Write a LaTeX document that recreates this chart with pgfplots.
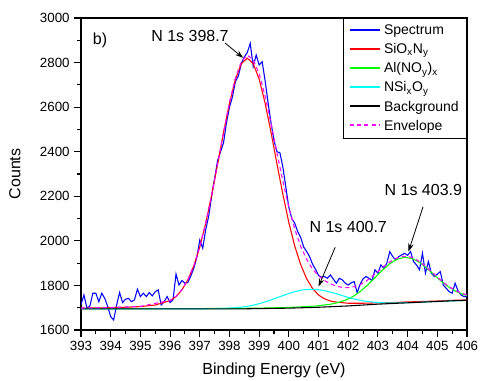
\documentclass[border=0pt]{standalone}
\usepackage{fontspec}
\setmainfont{Liberation Sans}
\usepackage{pgfplots}
\pgfplotsset{compat=1.18}
\usetikzlibrary{arrows.meta}
\definecolor{cBlue}{RGB}{0,0,255}
\definecolor{cRed}{RGB}{255,0,0}
\definecolor{cGreen}{RGB}{0,255,0}
\definecolor{cCyan}{RGB}{0,255,255}
\definecolor{cMag}{RGB}{255,0,255}
\begin{document}
\begin{tikzpicture}
\useasboundingbox (-60.75pt,-38.25pt) rectangle (299.25pt,247.5pt);
\begin{axis}[
 at={(0,0)}, anchor=south west,
 scale only axis, width=289.5pt, height=234pt,
 xmin=393, xmax=406, ymin=1600, ymax=3000,
 xtick={393,394,...,406}, minor x tick num=1,
 ytick={1600,1800,...,3000}, minor y tick num=1,
 tick align=outside, xtick pos=bottom, ytick pos=left,
 major tick length=5pt, minor tick length=3pt,
 tick style={black, line width=0.8pt},
 axis line style={line width=0.9pt},
 /pgf/number format/assume math mode=true,
 /pgf/number format/1000 sep={},
 ticklabel style={font=\fontsize{10}{12}\selectfont},
 label style={font=\fontsize{12}{14}\selectfont},
 xlabel={Binding Energy (eV)}, ylabel={Counts},
 xlabel style={at={(axis description cs:0.5,-0.128)}, anchor=center},
 ylabel style={at={(axis description cs:-0.171,0.5)}, anchor=center},
 legend style={at={(1,1)}, anchor=north east,
   font=\fontsize{10.5}{12}\selectfont, row sep=1.2pt, inner xsep=4pt, inner ysep=3pt},
 legend cell align=left,
 legend image code/.code={\draw[#1, line width=1.5pt] (0pt,0.4pt) -- (23pt,0.4pt);},
]
\addplot[color=cBlue, line width=0.8pt] coordinates {
(393.0,1715) (393.1,1757) (393.2,1698) (393.3,1708) (393.4,1765) (393.5,1765)
(393.6,1727) (393.7,1765) (393.8,1742) (393.9,1705) (394.0,1660) (394.1,1645)
(394.2,1712) (394.3,1768) (394.4,1723) (394.5,1738) (394.6,1742) (394.7,1727)
(394.8,1735) (394.9,1783) (395.0,1750) (395.1,1765) (395.2,1750) (395.3,1768)
(395.4,1753) (395.5,1772) (395.6,1780) (395.7,1712) (395.8,1727) (395.9,1750)
(396.0,1723) (396.1,1735) (396.2,1851) (396.3,1802) (396.4,1822) (396.5,1810)
(396.6,1813) (396.7,1843) (396.8,1877) (396.9,1925) (397.0,2004) (397.1,1967)
(397.2,2050) (397.3,2110) (397.4,2200) (397.5,2280) (397.6,2360) (397.7,2400)
(397.8,2440) (397.9,2530) (398.0,2600) (398.1,2645) (398.2,2715) (398.3,2740)
(398.4,2795) (398.5,2825) (398.6,2845) (398.7,2886) (398.8,2782) (398.9,2834)
(399.0,2789) (399.1,2804) (399.2,2720) (399.3,2620) (399.4,2530) (399.5,2450)
(399.6,2400) (399.7,2395) (399.8,2330) (399.9,2240) (400.0,2150) (400.1,2100)
(400.2,2079) (400.3,2041) (400.4,2015) (400.5,1972) (400.6,1952) (400.7,1929)
(400.8,1895) (400.9,1872) (401.0,1845) (401.1,1837) (401.2,1840) (401.3,1832)
(401.4,1847) (401.5,1828) (401.6,1810) (401.7,1832) (401.8,1825) (401.9,1810)
(402.0,1802) (402.1,1812) (402.2,1817) (402.3,1768) (402.4,1805) (402.5,1830)
(402.6,1840) (402.7,1832) (402.8,1822) (402.9,1870) (403.0,1855) (403.1,1892)
(403.2,1877) (403.3,1900) (403.4,1952) (403.5,1929) (403.6,1914) (403.7,1929)
(403.8,1937) (403.9,1944) (404.0,1935) (404.1,1952) (404.2,1907) (404.3,1892)
(404.4,1870) (404.5,1944) (404.6,1855) (404.7,1907) (404.8,1855) (404.9,1840)
(405.0,1850) (405.1,1862) (405.2,1802) (405.3,1787) (405.4,1772) (405.5,1765)
(405.6,1810) (405.7,1775) (405.8,1757) (405.9,1750) (406.0,1750)
};
\addlegendentry{Spectrum}
\addplot[color=cRed, line width=0.8pt] coordinates {
(393,1698) (393.5,1699) (394,1700) (394.5,1702) (395,1705) (395.5,1712)
(396,1732) (396.2,1750) (396.4,1780) (396.6,1825) (396.8,1888) (397.0,1972)
(397.2,2079) (397.4,2205) (397.6,2343) (397.8,2485) (398.0,2617) (398.2,2725)
(398.4,2795) (398.6,2820) (398.8,2795) (399.0,2726) (399.2,2618) (399.4,2487)
(399.6,2345) (399.8,2208) (400.0,2082) (400.2,1976) (400.4,1893) (400.6,1830)
(400.8,1786) (401.0,1757) (401.2,1740) (401.4,1730) (401.6,1725) (402.0,1720)
(402.5,1720) (403,1722) (403.5,1723) (404,1726) (404.5,1728) (405,1730)
(405.5,1733) (406,1735)
};
\addlegendentry{SiO\textsubscript{x}N\textsubscript{y}}
\addplot[color=cGreen, line width=0.8pt] coordinates {
(393,1695.5) (396,1696) (398,1696.5) (399,1698) (399.9,1700.8) (400.4,1703.6)
(400.9,1707.6) (401.4,1715.4) (401.65,1722.9) (401.9,1733.4) (402.15,1749.2)
(402.4,1772.2) (402.65,1801.2) (402.9,1834.2) (403.15,1868) (403.4,1897.4)
(403.65,1917.9) (403.9,1926.4) (404.15,1920.9) (404.4,1903.4) (404.65,1876.9)
(404.9,1846.4) (405.15,1816.9) (405.4,1791.4) (405.65,1771.6) (405.9,1758.6)
(406,1755)
};
\addlegendentry{Al(NO\textsubscript{y})\textsubscript{x}}
\addplot[color=cCyan, line width=0.8pt] coordinates {
(393,1695) (397.2,1695.3) (397.7,1696.4) (398.2,1699.8) (398.45,1703.3)
(398.7,1708.4) (398.95,1716.3) (399.2,1725.9) (399.45,1737.3) (399.7,1749.5)
(399.95,1761.4) (400.2,1772) (400.45,1779.5) (400.7,1782.8) (400.95,1781.5)
(401.2,1776.4) (401.45,1768.2) (401.7,1758.3) (401.95,1748.1) (402.2,1739.1)
(402.45,1732) (402.7,1727) (402.95,1723.9) (403.2,1722) (403.45,1721.4)
(403.7,1721.6) (404.2,1723.5) (405,1728) (406,1733)
};
\addlegendentry{NSi\textsubscript{x}O\textsubscript{y}}
\addplot[color=black, line width=0.8pt] coordinates {
(393,1695) (398.5,1695) (399,1696) (399.5,1697) (400,1698) (400.5,1700)
(401,1702) (401.5,1705) (402,1708) (402.5,1712) (403,1716) (403.5,1719)
(404,1722) (404.5,1725) (405,1728) (405.5,1731) (406,1733)
};
\addlegendentry{Background}
\addplot[color=cMag, line width=0.8pt, dash pattern=on 3pt off 2.5pt] coordinates {
(393,1698.5) (394,1700.6) (395,1705.8) (396,1733) (396.2,1751) (396.4,1781)
(396.6,1826) (396.8,1889) (397.0,1973) (397.2,2080) (397.4,2207) (397.6,2345)
(397.8,2488) (398.0,2621) (398.2,2731) (398.4,2804) (398.6,2833) (398.8,2813)
(399.0,2750) (399.2,2650) (399.4,2527) (399.6,2395) (399.8,2267) (400.0,2151)
(400.2,2053) (400.4,1975) (400.6,1917) (400.8,1873) (401.0,1843) (401.2,1822)
(401.4,1807) (401.6,1797) (401.8,1791) (402.0,1790) (402.2,1794) (402.4,1803)
(402.6,1819) (402.8,1840) (403.0,1862) (403.2,1885) (403.4,1905) (403.6,1921)
(403.8,1930) (404.0,1931) (404.2,1922) (404.4,1907) (404.6,1886) (404.8,1862)
(405.0,1838) (405.2,1814) (405.4,1794) (405.6,1778) (405.8,1766) (406.0,1757)
};
\addlegendentry{Envelope}
\node[font=\fontsize{12}{14}\selectfont] at (axis cs:393.64,2901) {b)};
\node[font=\fontsize{12}{14}\selectfont] at (axis cs:396.67,2919) {N 1s 398.7};
\draw[-{Stealth[length=6pt,width=4pt]}, line width=0.6pt] (axis cs:397.85,2888) -- (axis cs:398.46,2821);
\node[font=\fontsize{12}{14}\selectfont] at (axis cs:402.0,2060) {N 1s 400.7};
\draw[-{Stealth[length=6pt,width=4pt]}, line width=0.6pt] (axis cs:401.56,1971) -- (axis cs:401.0,1795);
\node[font=\fontsize{12}{14}\selectfont] at (axis cs:404.53,2228) {N 1s 403.9};
\draw[-{Stealth[length=6pt,width=4pt]}, line width=0.6pt] (axis cs:404.52,2153) -- (axis cs:404.03,1952);
\end{axis}
\end{tikzpicture}
\end{document}
